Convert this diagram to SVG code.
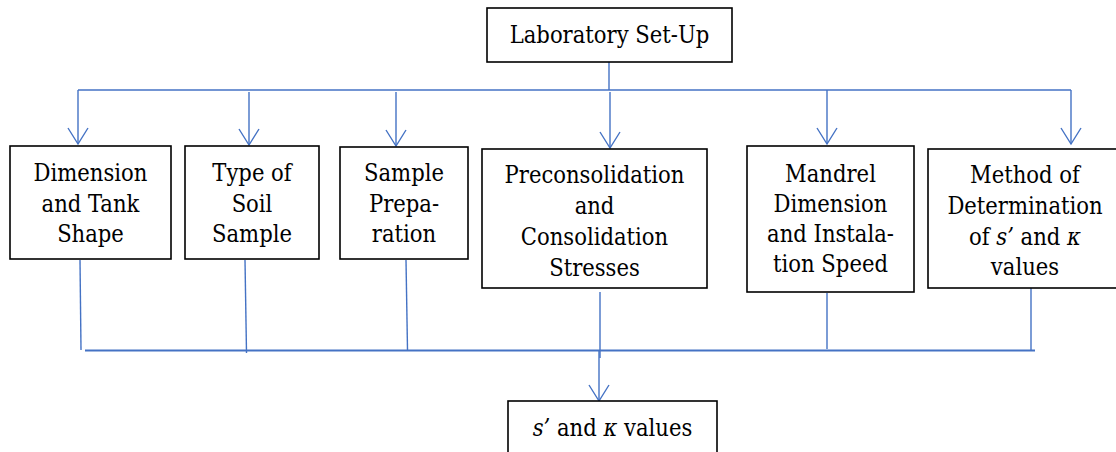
<svg xmlns="http://www.w3.org/2000/svg" width="1116" height="452" viewBox="0 0 1116 452">
<defs>
<marker id="arr" viewBox="-18 -12 20 24" markerWidth="20" markerHeight="24" refX="0" refY="0" orient="auto" markerUnits="userSpaceOnUse">
<path d="M-16,-10 L0,0 L-16,10" fill="none" stroke="#4472C4" stroke-width="1.4"/>
</marker>
</defs>
<style>
.box{fill:#fff;stroke:#000;stroke-width:1.6}
.i{font-style:italic}
.c{fill:none;stroke:#4472C4;stroke-width:1.4}
.h{fill:none;stroke:#4472C4;stroke-width:2}
</style>
<rect width="1116" height="452" fill="#fff"/>
<g id="connectors">
<line class="c" x1="609" y1="62" x2="609" y2="90"/>
<line class="c" x1="78" y1="90" x2="1071" y2="90"/>
<line class="c" x1="78" y1="90" x2="78" y2="144" marker-end="url(#arr)"/>
<line class="c" x1="249" y1="92" x2="249" y2="145" marker-end="url(#arr)"/>
<line class="c" x1="396" y1="92" x2="396" y2="146" marker-end="url(#arr)"/>
<line class="c" x1="610" y1="92" x2="610" y2="148" marker-end="url(#arr)"/>
<line class="c" x1="827" y1="90" x2="827" y2="144" marker-end="url(#arr)"/>
<line class="c" x1="1071" y1="90" x2="1071" y2="144" marker-end="url(#arr)"/>
<line class="c" x1="80" y1="260" x2="81" y2="350"/>
<line class="c" x1="245" y1="260" x2="246.5" y2="353"/>
<line class="c" x1="406" y1="260" x2="407.5" y2="350"/>
<line class="c" x1="600" y1="292" x2="600" y2="358"/>
<line class="c" x1="827" y1="293" x2="827" y2="349"/>
<line class="c" x1="1031" y1="288" x2="1031" y2="351"/>
<line class="h" x1="85" y1="350.5" x2="1035" y2="350.5"/>
<line class="c" x1="599" y1="350" x2="599" y2="401" marker-end="url(#arr)"/>
</g>
<g font-family="DejaVu Serif Condensed, DejaVu Serif, serif" font-stretch="condensed" font-size="23.5" text-anchor="middle" fill="#000">
<g id="lab">
<rect class="box" x="487" y="8" width="245" height="54"/>
<text x="609.5" y="43">Laboratory Set-Up</text>
</g>
<g id="dimension">
<rect class="box" x="10" y="146" width="161" height="113"/>
<text x="90.5" y="181">Dimension</text>
<text x="90.5" y="211.5">and Tank</text>
<text x="90.5" y="242">Shape</text>
</g>
<g id="soil">
<rect class="box" x="185" y="146" width="134" height="113"/>
<text x="252" y="181">Type of</text>
<text x="252" y="211.5">Soil</text>
<text x="252" y="242">Sample</text>
</g>
<g id="prep">
<rect class="box" x="340" y="147" width="128" height="112"/>
<text x="404" y="181">Sample</text>
<text x="404" y="211.5">Prepa-</text>
<text x="404" y="242">ration</text>
</g>
<g id="precon">
<rect class="box" x="482" y="149" width="225" height="139"/>
<text x="594.5" y="183">Preconsolidation</text>
<text x="594.5" y="214">and</text>
<text x="594.5" y="245">Consolidation</text>
<text x="594.5" y="276">Stresses</text>
</g>
<g id="mandrel">
<rect class="box" x="747" y="146" width="167" height="146"/>
<text x="830.5" y="181.5">Mandrel</text>
<text x="830.5" y="211.5">Dimension</text>
<text x="830.5" y="241.5">and Instala-</text>
<text x="830.5" y="271.5">tion Speed</text>
</g>
<g id="method">
<rect class="box" x="928" y="149" width="196" height="139"/>
<text x="1025" y="183">Method of</text>
<text x="1025" y="213.5">Determination</text>
<text x="1025" y="244.5">of <tspan class="i">s’</tspan> and <tspan class="i">κ</tspan></text>
<text x="1025" y="275">values</text>
</g>
<g id="result">
<rect class="box" x="508" y="401" width="209" height="60"/>
<text x="612.5" y="436"><tspan class="i">s’</tspan> and <tspan class="i">κ</tspan> values</text>
</g>
</g>
</svg>
